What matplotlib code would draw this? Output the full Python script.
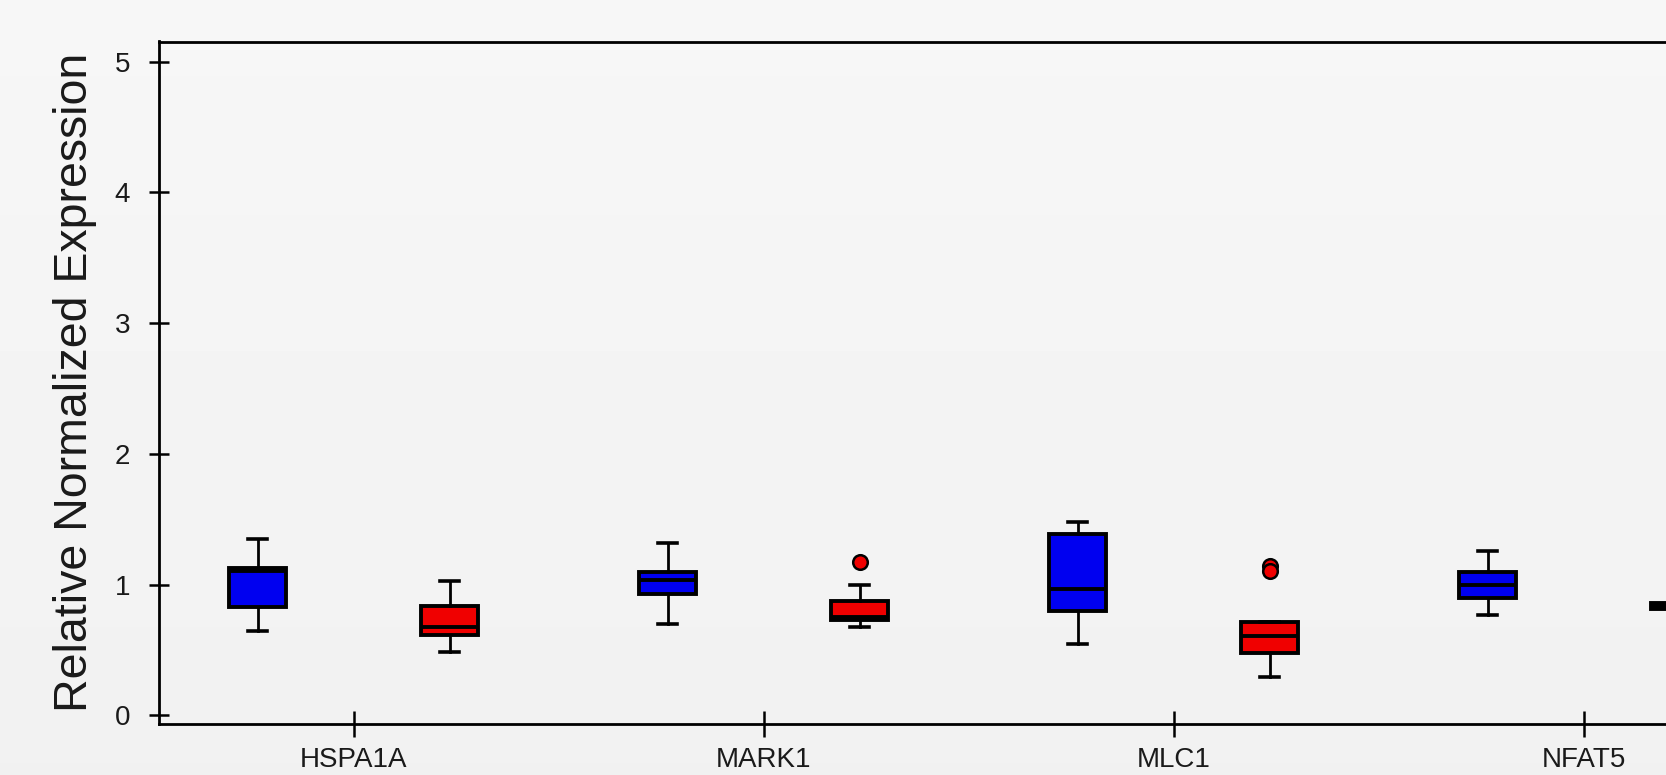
import numpy as np
import matplotlib
matplotlib.use('Agg')
import matplotlib.pyplot as plt

# genes on the x axis
genes = ['HSPA1A', 'MARK1', 'MLC1', 'NFAT5']

# blue group: whisker low, Q1, median, Q3, whisker high, outliers
blue_low = [0.644, 0.702, 0.547, 0.771]
blue_q1 = [0.830, 0.926, 0.799, 0.900]
blue_med = [1.100, 1.038, 0.964, 0.995]
blue_q3 = [1.130, 1.097, 1.389, 1.097]
blue_high = [1.351, 1.320, 1.478, 1.254]
blue_fliers = [[], [], [], []]

# red group
red_low = [0.481, 0.672, 0.295, 0.800]
red_q1 = [0.611, 0.728, 0.478, 0.810]
red_med = [0.677, 0.750, 0.606, 0.835]
red_q3 = [0.837, 0.876, 0.715, 0.860]
red_high = [1.028, 0.995, 0.715, 0.870]
red_fliers = [[], [1.173], [1.145, 1.100], []]

W, H = 1666, 775
text_col = '#1a1a1a'
font = ['Liberation Sans', 'DejaVu Sans']


def make_stats(low, q1, med, q3, high, fliers):
    return [dict(whislo=a, q1=b, med=c, q3=d, whishi=e, fliers=f)
            for a, b, c, d, e, f in zip(low, q1, med, q3, high, fliers)]


fig = plt.figure(figsize=(W / 100, H / 100), dpi=100)

# soft grey gradient behind everything
bg = fig.add_axes([0, 0, 1, 1], zorder=-1)
grad = np.linspace(0.967, 0.945, 256).reshape(-1, 1)
bg.imshow(grad, aspect='auto', cmap='gray', vmin=0, vmax=1)
bg.axis('off')

# x: 410 px per gene, first tick at 353.6 px; the chart runs past the right edge
x_left = (159 - 353.6) / 410
x_right = 3.6
ax = fig.add_axes([159 / W, 51 / H, (x_right - x_left) * 410 / W, 682.5 / H])
ax.patch.set_alpha(0)

pos = np.arange(len(genes))
off = 96 / 410
common = dict(widths=57 / 410, capwidths=19 / 410, patch_artist=True,
              manage_ticks=False,
              medianprops=dict(color='black', linewidth=2.8),
              whiskerprops=dict(color='black', linewidth=2.0),
              capprops=dict(color='black', linewidth=2.6),
              flierprops=dict(marker='o', markerfacecolor='#f00000',
                              markeredgecolor='black', markersize=10.5,
                              markeredgewidth=1.8))

ax.bxp(make_stats(blue_low, blue_q1, blue_med, blue_q3, blue_high, blue_fliers),
       positions=pos - off,
       boxprops=dict(facecolor='#0000f0', edgecolor='black', linewidth=2.8),
       **common)
ax.bxp(make_stats(red_low, red_q1, red_med, red_q3, red_high, red_fliers),
       positions=pos + off,
       boxprops=dict(facecolor='#f00000', edgecolor='black', linewidth=2.8),
       **common)

ax.set_xlim(x_left, x_right)
ax.set_ylim(-0.0665, 5.154)
ax.set_xticks(pos, genes)
ax.set_yticks(range(6))

for s in ['left', 'top', 'bottom']:
    ax.spines[s].set_linewidth(2.0)
    ax.spines[s].set_color('black')
ax.spines['right'].set_visible(False)

ax.tick_params(axis='x', direction='inout', length=18.7, width=1.8, pad=7.5,
               labelsize=20, labelcolor=text_col)
ax.tick_params(axis='y', direction='inout', length=13.7, width=1.8, pad=14,
               labelsize=20, labelcolor=text_col)
for lab in ax.get_xticklabels() + ax.get_yticklabels():
    lab.set_family(font)

fig.text(75 / W, 1 - 382 / H, 'Relative Normalized Expression', rotation=90,
         ha='center', va='center', fontsize=33.5, color=text_col,
         family=font)

fig.savefig('out.png', dpi=100)
